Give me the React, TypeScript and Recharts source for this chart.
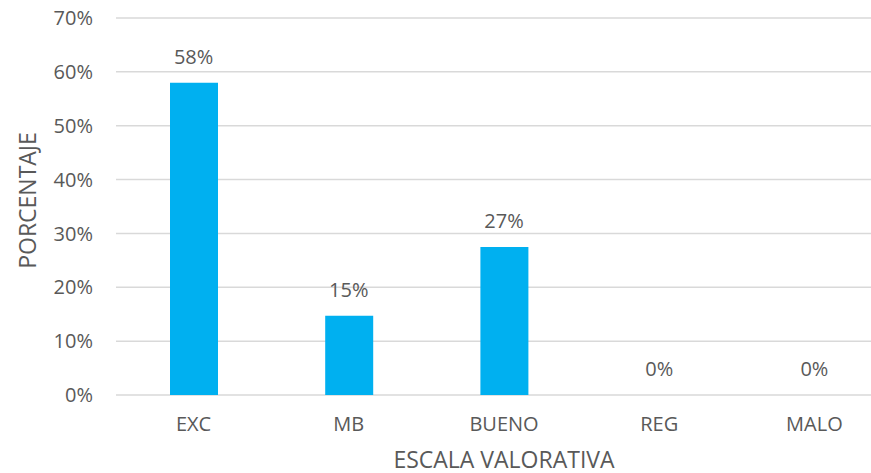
import React from "react";
import { ComposedChart, Bar, Line, XAxis, YAxis, CartesianGrid, LabelList, Label } from "recharts";

// Categories on the rating scale and share of answers for each
const categories = ["EXC", "MB", "BUENO", "REG", "MALO"];
const percentages = [0.58, 0.147, 0.275, 0, 0];
const valueLabels = ["58%", "15%", "27%", "0%", "0%"];
const yTicks = [0, 0.1, 0.2, 0.3, 0.4, 0.5, 0.6, 0.7];

const BAR_COLOR = "#00B0F0";
const TEXT_COLOR = "#595959";
const GRID_COLOR = "#D9D9D9";
const FONT = "'Open Sans', sans-serif";

const data = categories.map((name, i) => ({
  name,
  value: percentages[i],
  label: valueLabels[i],
}));

export default function App() {
  return (
    <div
      style={{
        position: "absolute",
        left: 0,
        top: 0,
        width: 871,
        height: 473,
        overflow: "hidden",
        background: "#fff",
        fontFamily: FONT,
      }}
    >
      <ComposedChart
        width={900}
        height={473}
        data={data}
        margin={{ top: 18, right: 8, bottom: 0, left: 0 }}
        barSize={48}
      >
        <CartesianGrid vertical={false} stroke={GRID_COLOR} strokeWidth={1.5} />
        <XAxis
          dataKey="name"
          height={78}
          axisLine={false}
          tickLine={false}
          tickSize={0}
          tickMargin={22}
          tick={{ fill: TEXT_COLOR, fontSize: 20, fontFamily: FONT }}
        >
          {/* axis title sits centred under the plot, right on the bottom edge */}
          <Label
            content={({ viewBox }: any) => (
              <text
                x={viewBox.x + viewBox.width / 2}
                y={468}
                textAnchor="middle"
                fill={TEXT_COLOR}
                fontSize={23}
                fontFamily={FONT}
              >
                ESCALA VALORATIVA
              </text>
            )}
          />
        </XAxis>
        <YAxis
          width={116}
          domain={[0, 0.7]}
          ticks={yTicks}
          axisLine={false}
          tickLine={false}
          tickSize={0}
          tickMargin={23}
          tickFormatter={(v: number) => `${Math.round(v * 100)}%`}
          tick={{ fill: TEXT_COLOR, fontSize: 20, fontFamily: FONT }}
        >
          <Label
            content={({ viewBox }: any) => {
              const cx = 28;
              const cy = viewBox.y + viewBox.height / 2 - 6;
              return (
                <text
                  x={cx}
                  y={cy}
                  transform={`rotate(-90, ${cx}, ${cy})`}
                  textAnchor="middle"
                  dy="0.36em"
                  fill={TEXT_COLOR}
                  fontSize={23}
                  fontFamily={FONT}
                >
                  PORCENTAJE
                </text>
              );
            }}
          />
        </YAxis>
        <Bar dataKey="value" fill={BAR_COLOR} isAnimationActive={false} />
        {/* invisible line only to carry the value labels, so 0% still shows */}
        <Line
          dataKey="value"
          stroke="none"
          dot={false}
          activeDot={false}
          isAnimationActive={false}
        >
          <LabelList
            dataKey="label"
            position="top"
            offset={19}
            fill={TEXT_COLOR}
            fontSize={20}
            fontFamily={FONT}
          />
        </Line>
      </ComposedChart>
    </div>
  );
}
